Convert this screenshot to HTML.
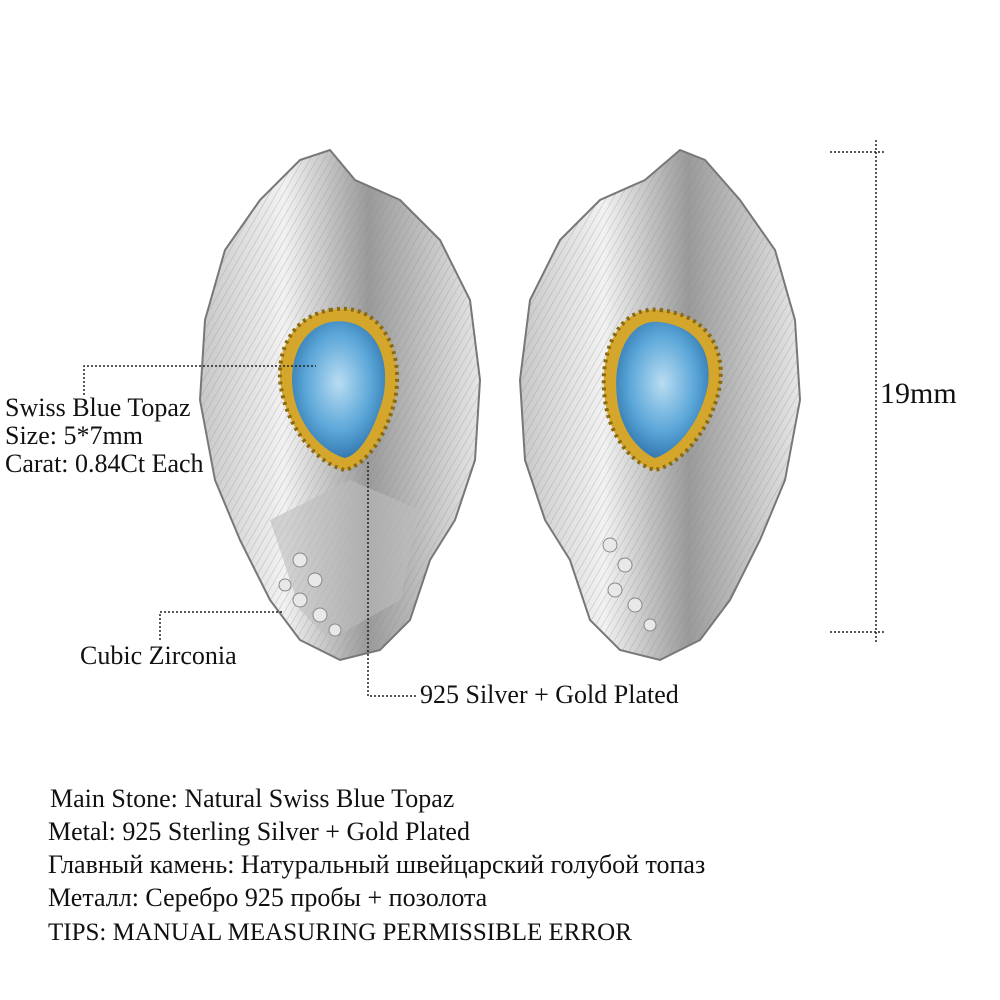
<!DOCTYPE html>
<html><head><meta charset="utf-8"><style>
html,body{margin:0;padding:0;background:#fff;}
.wrap{position:relative;width:1000px;height:1000px;overflow:hidden;font-family:"Liberation Serif","Noto Serif CJK SC",serif;color:#111;}
.t{position:absolute;white-space:nowrap;font-size:26px;line-height:1;}
svg{position:absolute;left:0;top:0;}
</style></head><body><div class="wrap">
<svg width="1000" height="1000" viewBox="0 0 1000 1000">
<defs>
<linearGradient id="sil" x1="0" y1="0" x2="1" y2="0">
<stop offset="0" stop-color="#c8c8c8"/><stop offset="0.3" stop-color="#f2f2f2"/><stop offset="0.6" stop-color="#9a9a9a"/><stop offset="1" stop-color="#e6e6e6"/></linearGradient>
<radialGradient id="gem" cx="0.5" cy="0.45" r="0.6"><stop offset="0" stop-color="#b9dcf2"/><stop offset="0.6" stop-color="#5aa6d8"/><stop offset="1" stop-color="#2b6fa8"/></radialGradient>
<pattern id="str" width="6" height="6" patternUnits="userSpaceOnUse" patternTransform="rotate(30)"><line x1="0" y1="0" x2="0" y2="6" stroke="#8a8a8a" stroke-width="1" opacity="0.5"/></pattern>
</defs>
<g>
<path d="M300 160 L330 150 L355 180 L400 200 L440 240 L470 300 L480 380 L475 460 L455 520 L430 560 L410 620 L380 650 L340 660 L300 640 L270 600 L240 540 L215 480 L200 400 L205 320 L225 250 L260 200 Z" fill="url(#sil)" stroke="#777" stroke-width="2"/>
<path d="M300 160 L330 150 L355 180 L400 200 L440 240 L470 300 L480 380 L475 460 L455 520 L430 560 L410 620 L380 650 L340 660 L300 640 L270 600 L240 540 L215 480 L200 400 L205 320 L225 250 L260 200 Z" fill="url(#str)"/>
<path d="M270 520 L350 480 L420 510 L400 600 L330 640 L300 610 Z" fill="#bdbdbd" opacity="0.6"/>
<g fill="#e8e8e8" stroke="#888"><circle cx="300" cy="560" r="7"/><circle cx="315" cy="580" r="7"/><circle cx="300" cy="600" r="7"/><circle cx="320" cy="615" r="7"/><circle cx="285" cy="585" r="6"/><circle cx="335" cy="630" r="6"/></g>
<path d="M330 310 C380 300 405 350 395 400 C385 440 365 465 345 470 C320 465 285 430 280 380 C278 340 300 315 330 310 Z" fill="#d4a72c" stroke="#8a6a10" stroke-width="4" stroke-dasharray="3 4"/>
<path d="M330 322 C372 315 392 355 383 398 C373 435 358 455 345 458 C322 452 293 422 292 380 C292 348 308 327 330 322 Z" fill="url(#gem)"/>
</g>
<g>
<path d="M680 150 L705 160 L740 200 L775 250 L795 320 L800 400 L785 480 L760 540 L730 600 L700 640 L660 660 L620 650 L590 620 L570 560 L545 520 L525 460 L520 380 L530 300 L560 240 L600 200 L645 180 Z" fill="url(#sil)" stroke="#777" stroke-width="2"/>
<path d="M680 150 L705 160 L740 200 L775 250 L795 320 L800 400 L785 480 L760 540 L730 600 L700 640 L660 660 L620 650 L590 620 L570 560 L545 520 L525 460 L520 380 L530 300 L560 240 L600 200 L645 180 Z" fill="url(#str)"/>
<g fill="#e8e8e8" stroke="#888"><circle cx="610" cy="545" r="7"/><circle cx="625" cy="565" r="7"/><circle cx="615" cy="590" r="7"/><circle cx="635" cy="605" r="7"/><circle cx="650" cy="625" r="6"/></g>
<path d="M660 310 C705 315 725 345 720 385 C712 430 680 465 655 470 C635 465 610 440 605 400 C598 350 620 305 660 310 Z" fill="#d4a72c" stroke="#8a6a10" stroke-width="4" stroke-dasharray="3 4"/>
<path d="M660 322 C698 327 712 352 708 385 C700 425 675 452 655 458 C640 452 620 430 617 398 C612 355 630 318 660 322 Z" fill="url(#gem)"/>
</g>
<g stroke="#222" stroke-width="1.5" stroke-dasharray="2 2" fill="none">
<polyline points="84,395 84,366 316,366"/>
<polyline points="160,640 160,612 282,612"/>
<polyline points="368,462 368,696 418,696"/>
<line x1="830" y1="152" x2="886" y2="152"/>
<line x1="830" y1="632" x2="886" y2="632"/>
<line x1="876" y1="140" x2="876" y2="642"/>
</g>
</svg>
<div class="t" style="left:5px;top:395px">Swiss Blue Topaz</div>
<div class="t" style="left:5px;top:423px">Size: 5*7mm</div>
<div class="t" style="left:5px;top:451px">Carat: 0.84Ct Each</div>
<div class="t" style="left:80px;top:643px">Cubic Zirconia</div>
<div class="t" style="left:420px;top:682px">925 Silver + Gold Plated</div>
<div class="t" style="left:880px;top:379px;font-size:30px">19mm</div>
<div class="t" style="left:50px;top:786px">Main Stone: Natural Swiss Blue Topaz</div>
<div class="t" style="left:48px;top:819px">Metal: 925 Sterling Silver + Gold Plated</div>
<div class="t" style="left:48px;top:852px">Главный камень: Натуральный швейцарский голубой топаз</div>
<div class="t" style="left:48px;top:885px">Металл: Серебро 925 пробы + позолота</div>
<div class="t" style="left:48px;top:920px;font-size:25px">TIPS: MANUAL MEASURING PERMISSIBLE ERROR</div>
</div></body></html>
